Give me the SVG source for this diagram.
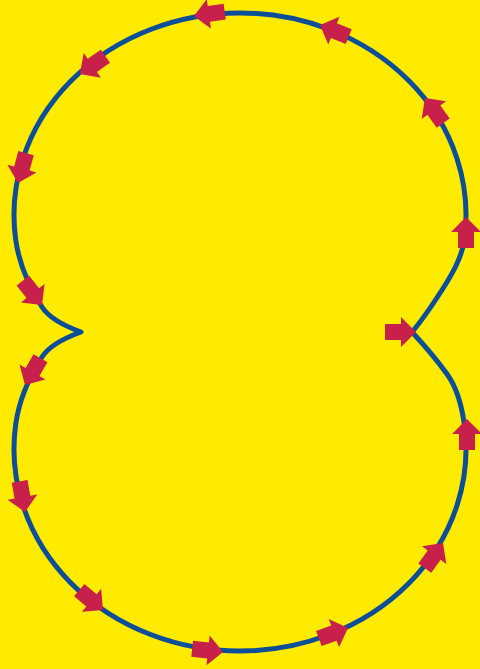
<svg xmlns="http://www.w3.org/2000/svg" xmlns:xlink="http://www.w3.org/1999/xlink" width="480" height="669" viewBox="0 0 480 669">
<style>
.bg{fill:#FFEB00}
.curve{fill:none;stroke:#0C4E97;stroke-width:5;stroke-linejoin:round;stroke-linecap:round}
.arrow{fill:#C6204B}
</style>
<defs>
<polygon id="arr" points="0,0 -15,-15 -15,-8 -31,-8 -31,8 -15,8 -15,15"/>
</defs>
<rect class="bg" x="0" y="0" width="480" height="669"/>
<g id="connectors">
<path id="loop" class="curve" d="M412,332 C423.1,319.1 432.8,304.3 442,290 C451.7,274.8 461.8,257.8 464.26,240 A226,202 0 1 0 15.74,240 C19.05,263.8 29.1,286.8 42,307 C50.1,319.6 66.9,326.9 81,332 C66.9,337.1 50.1,344.4 42,357 C29.1,377.2 19.05,400.2 15.74,424 A226,202 0 1 0 464.26,424 C461.8,406.2 457.6,388.6 447,374 C436.4,359.4 424.2,345.1 412,332 Z"/>
</g>
<g id="arrows" class="arrow">
<use xlink:href="#arr" transform="translate(416,332) rotate(0)"/>
<use xlink:href="#arr" transform="translate(466,217) rotate(-90)"/>
<use xlink:href="#arr" transform="translate(425,98) rotate(-126)"/>
<use xlink:href="#arr" transform="translate(320,25) rotate(-158)"/>
<use xlink:href="#arr" transform="translate(194,16) rotate(172)"/>
<use xlink:href="#arr" transform="translate(80,74) rotate(145)"/>
<use xlink:href="#arr" transform="translate(18,183) rotate(105)"/>
<use xlink:href="#arr" transform="translate(42,305) rotate(52)"/>
<use xlink:href="#arr" transform="translate(25,385) rotate(120)"/>
<use xlink:href="#arr" transform="translate(25,512) rotate(80)"/>
<use xlink:href="#arr" transform="translate(103,610) rotate(40)"/>
<use xlink:href="#arr" transform="translate(223,652) rotate(6)"/>
<use xlink:href="#arr" transform="translate(348,628) rotate(-20)"/>
<use xlink:href="#arr" transform="translate(443,543) rotate(-54)"/>
<use xlink:href="#arr" transform="translate(467,419) rotate(-90)"/>
</g>
</svg>
